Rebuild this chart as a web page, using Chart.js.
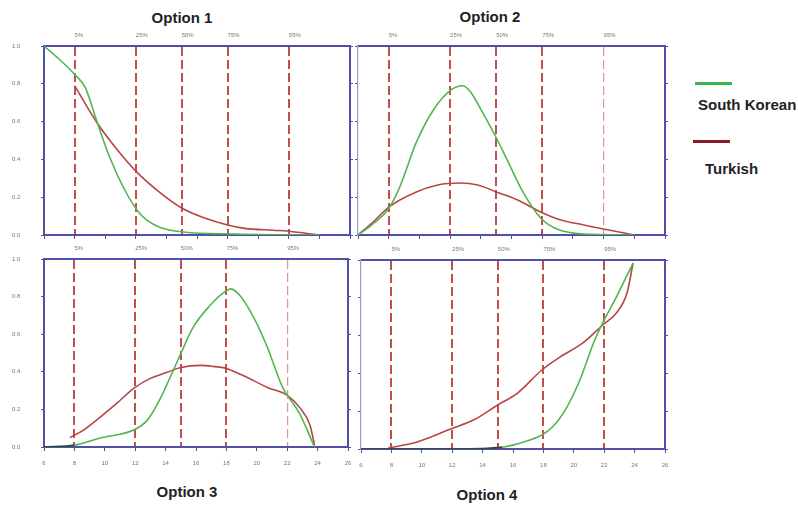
<!DOCTYPE html>
<html>
<head>
<meta charset="utf-8">
<title>Options</title>
<script src="https://cdn.jsdelivr.net/npm/chart.js@4.4.0/dist/chart.umd.min.js"></script>
<style>
    body { margin: 0; width: 798px; height: 505px; background: #fff; overflow: hidden; position: relative; font-family: "Liberation Sans", Arial, sans-serif; }
    canvas { position: absolute; }
    .title { position: absolute; width: 100px; text-align: center; font-weight: bold; font-size: 15px; line-height: 15px; color: #222; }
    .legend-line { position: absolute; height: 3px; width: 37px; }
    .legend-text { position: absolute; font-weight: bold; font-size: 15px; line-height: 15px; color: #222; }
</style>
</head>
<body>
<div class="title" style="left:132px; top:10px;">Option 1</div>
<div class="title" style="left:440px; top:9px;">Option 2</div>
<div class="title" style="left:137px; top:484px;">Option 3</div>
<div class="title" style="left:437px; top:487px;">Option 4</div>

<div class="legend-line" style="left:695px; top:82px; background:#3cb44b;"></div>
<div class="legend-text" style="left:698px; top:97px;">South Korean</div>
<div class="legend-line" style="left:693px; top:140px; background:#8b1a2b;"></div>
<div class="legend-text" style="left:705px; top:161px;">Turkish</div>

<canvas id="chart1" width="344" height="219" style="left:12px; top:28px;"></canvas>
<canvas id="chart2" width="319" height="219" style="left:352px; top:28px;"></canvas>
<canvas id="chart3" width="342" height="230" style="left:12px; top:241px;"></canvas>
<canvas id="chart4" width="316" height="231" style="left:355px; top:242px;"></canvas>

<script>
// axis ranges and percentile markers
const xMin = 6;
const xMax = 26;
const xStep = 2;
const percentileX = [8, 12, 15, 18, 22];
const percentileLabels = ['5%', '25%', '50%', '75%', '95%'];

// Option 1
const opt1KoreaX = [6, 7, 8, 8.7, 9.5, 10.3, 11.2, 12.1, 12.7, 13.6, 15.1, 18.4, 24];
const opt1KoreaY = [1.0, 0.93, 0.85, 0.78, 0.59, 0.41, 0.25, 0.13, 0.08, 0.04, 0.016, 0.005, 0];
const opt1TurkeyX = [8, 9.5, 10.8, 12.1, 13.5, 15, 16.5, 18, 19.1, 21, 22, 24];
const opt1TurkeyY = [0.79, 0.59, 0.45, 0.33, 0.23, 0.143, 0.09, 0.053, 0.035, 0.025, 0.02, 0];

// Option 2
const opt2KoreaX = [6, 7, 8, 8.7, 9.8, 10.9, 12.1, 12.8, 13.3, 14.1, 15.1, 15.7, 16.8, 17.9, 19, 20.7, 24];
const opt2KoreaY = [0, 0.06, 0.14, 0.25, 0.49, 0.66, 0.77, 0.79, 0.76, 0.65, 0.5, 0.4, 0.22, 0.09, 0.03, 0.005, 0];
const opt2TurkeyX = [6, 7, 8, 9.8, 11.2, 12.6, 13.8, 15, 16.4, 17.9, 19, 20.7, 22, 24];
const opt2TurkeyY = [0, 0.07, 0.148, 0.228, 0.265, 0.275, 0.265, 0.228, 0.185, 0.122, 0.085, 0.053, 0.032, 0];

// Option 3
const opt3KoreaX = [6, 8, 9.7, 11.9, 12.8, 13.6, 14.5, 15, 15.8, 16.9, 17.8, 18.3, 18.9, 19.8, 20.7, 21.7, 22.8, 23.8];
const opt3KoreaY = [0, 0.01, 0.048, 0.09, 0.143, 0.249, 0.407, 0.497, 0.635, 0.751, 0.82, 0.841, 0.804, 0.688, 0.529, 0.317, 0.18, 0];
const opt3TurkeyX = [7.7, 8.6, 9.7, 10.8, 11.9, 13, 14.1, 15, 16.3, 17.1, 18, 19.1, 20.7, 22, 22.8, 23.5, 23.8];
const opt3TurkeyY = [0.05, 0.09, 0.159, 0.233, 0.312, 0.365, 0.397, 0.423, 0.434, 0.429, 0.418, 0.38, 0.317, 0.275, 0.212, 0.116, 0.01];

// Option 4
const opt4KoreaX = [6, 8, 10, 12, 15.3, 16.7, 17.9, 18.6, 19.55, 20.4, 21.3, 21.9, 22.8, 23.9];
const opt4KoreaY = [0, 0, 0, 0, 0.01, 0.037, 0.074, 0.116, 0.222, 0.365, 0.561, 0.667, 0.804, 0.984];
const opt4TurkeyX = [7.8, 9.7, 11.9, 13.4, 15, 16.3, 17.9, 19.1, 20.6, 21.9, 22.8, 23.5, 23.9];
const opt4TurkeyY = [0.005, 0.037, 0.106, 0.153, 0.233, 0.296, 0.418, 0.487, 0.561, 0.656, 0.72, 0.825, 0.984];

const axisColor = '#5050a8';
const dashColor = '#c0504d';
const koreaColor = '#52b552';
const turkeyColor = '#b84545';
const tickFont = { family: 'Liberation Sans', size: 6 };

function toPoints(xs, ys) {
    return xs.map((x, i) => ({ x: x, y: ys[i] }));
}

function makeChart(id, korea, turkey, cfg) {
    const ctx = document.getElementById(id).getContext('2d');
    return new Chart(ctx, {
        type: 'line',
        data: {
            datasets: [{
                label: 'South Korean',
                data: toPoints(korea[0], korea[1]),
                borderColor: koreaColor,
                borderWidth: 1.6,
                pointRadius: 0,
                cubicInterpolationMode: 'monotone',
                segment: {
                    // flat leading part drawn dark, as in the picture
                    borderColor: c => (cfg.darkFlat && c.p0.parsed.y === 0 && c.p1.parsed.y < 0.02 && c.p0.parsed.x < 15.5) ? '#2a4a2a' : undefined
                }
            }, {
                label: 'Turkish',
                data: toPoints(turkey[0], turkey[1]),
                borderColor: turkeyColor,
                borderWidth: 1.6,
                pointRadius: 0,
                cubicInterpolationMode: 'monotone'
            }]
        },
        options: {
            responsive: false,
            devicePixelRatio: 1,
            animation: false,
            layout: { padding: 0 },
            plugins: {
                legend: { display: false },
                tooltip: { enabled: false }
            },
            scales: {
                x: {
                    type: 'linear',
                    position: 'bottom',
                    min: xMin,
                    max: xMax,
                    ticks: {
                        stepSize: xStep,
                        display: cfg.xLabels,
                        font: { family: 'Liberation Sans', size: 6, lineHeight: '20px' },
                        color: '#777',
                        padding: 2,
                        maxRotation: 0
                    },
                    grid: { display: true, drawOnChartArea: false, drawTicks: true, tickLength: 4, color: axisColor },
                    border: { display: true, color: axisColor, width: 2 },
                    afterFit: s => { s.height = cfg.bottomH; }
                },
                x2: {
                    type: 'linear',
                    position: 'top',
                    min: xMin,
                    max: xMax,
                    afterBuildTicks: axis => { axis.ticks = percentileX.map(v => ({ value: v })); },
                    ticks: {
                        align: 'start',
                        font: tickFont,
                        color: '#777',
                        padding: 7,
                        maxRotation: 0,
                        callback: (v, i) => percentileLabels[i]
                    },
                    grid: {
                        drawOnChartArea: true,
                        drawTicks: false,
                        color: c => (cfg.thinLast && c.index === percentileX.length - 1) ? '#d89a98' : dashColor,
                        lineWidth: c => (cfg.thinLast && c.index === percentileX.length - 1) ? 1.2 : 2
                    },
                    border: { display: true, color: axisColor, width: 2, dash: [9, 4] },
                    afterFit: s => { s.height = 18; }
                },
                y: {
                    type: 'linear',
                    position: 'left',
                    min: 0,
                    max: 1,
                    ticks: {
                        stepSize: 0.2,
                        display: cfg.yLabels,
                        font: tickFont,
                        color: '#777',
                        padding: 0,
                        crossAlign: 'far',
                        callback: v => v.toFixed(1)
                    },
                    grid: { drawOnChartArea: false, drawTicks: true, tickLength: 3, color: axisColor },
                    border: { display: true, color: cfg.leftColor, width: cfg.leftWidth },
                    afterFit: s => { s.width = cfg.leftW; }
                },
                y2: {
                    type: 'linear',
                    position: 'right',
                    min: 0,
                    max: 1,
                    ticks: { stepSize: 0.2, display: false },
                    grid: { drawOnChartArea: false, drawTicks: true, tickLength: 3, color: axisColor },
                    border: { display: true, color: axisColor, width: 2 },
                    afterFit: s => { s.width = 6; }
                }
            }
        }
    });
}

makeChart('chart1', [opt1KoreaX, opt1KoreaY], [opt1TurkeyX, opt1TurkeyY],
    { xLabels: false, yLabels: true, leftW: 32, bottomH: 12, leftColor: axisColor, leftWidth: 2, thinLast: false, darkFlat: false });
makeChart('chart2', [opt2KoreaX, opt2KoreaY], [opt2TurkeyX, opt2TurkeyY],
    { xLabels: false, yLabels: false, leftW: 6, bottomH: 12, leftColor: '#9a9ac8', leftWidth: 1.2, thinLast: true, darkFlat: false });
makeChart('chart3', [opt3KoreaX, opt3KoreaY], [opt3TurkeyX, opt3TurkeyY],
    { xLabels: true, yLabels: true, leftW: 32, bottomH: 24, leftColor: axisColor, leftWidth: 2, thinLast: true, darkFlat: true });
makeChart('chart4', [opt4KoreaX, opt4KoreaY], [opt4TurkeyX, opt4TurkeyY],
    { xLabels: true, yLabels: false, leftW: 6, bottomH: 24, leftColor: '#9a9ac8', leftWidth: 1.2, thinLast: false, darkFlat: true });
</script>
</body>
</html>
